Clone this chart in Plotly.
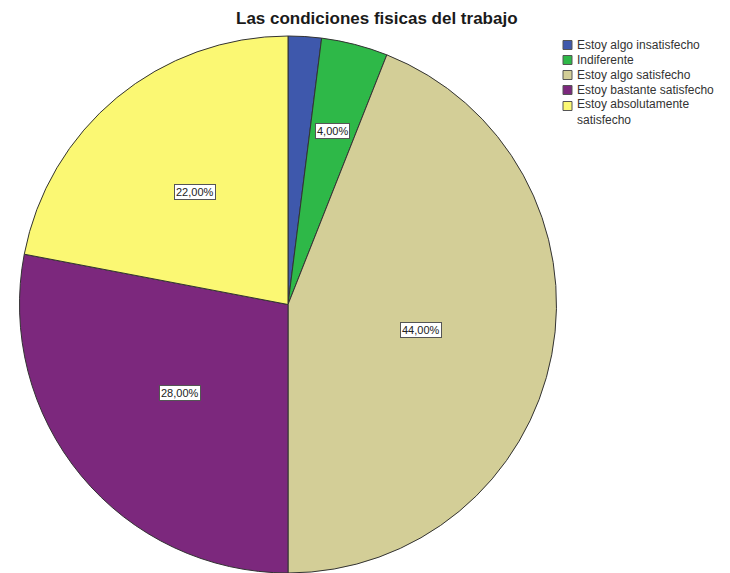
import math
import plotly.graph_objects as go

# Survey answers and their shares (percent)
categories = [
    "Estoy algo insatisfecho",
    "Indiferente",
    "Estoy algo satisfecho",
    "Estoy bastante satisfecho",
    "Estoy absolutamente satisfecho",
]
legend_text = [
    "Estoy algo insatisfecho",
    "Indiferente",
    "Estoy algo satisfecho",
    "Estoy bastante satisfecho",
    "Estoy absolutamente<br>satisfecho",
]
percentages = [2.0, 4.0, 44.0, 28.0, 22.0]
colors = ["#3E58AC", "#2EB848", "#D3CE97", "#7C287D", "#FBF873"]

# radial position of each value label (None = label not drawn)
label_radius = [None, 0.667, 0.505, 0.52, 0.546]

W, H = 730, 573
CX, CY, R = 288.0, 304.5, 268.5  # pie centre and radius in pixels

fig = go.Figure()
fig.add_trace(go.Pie(
    labels=categories,
    values=percentages,
    marker=dict(colors=colors, line=dict(color="#333333", width=1)),
    sort=False,
    direction="clockwise",
    rotation=0,
    textinfo="none",
    hoverinfo="label+percent",
    showlegend=False,
    domain=dict(x=[(CX - R) / W, (CX + R) / W], y=[0, 1 - (CY - R) / H]),
))

annotations = []
shapes = []

# boxed percentage labels placed along each slice's mid-angle
total = sum(percentages)
cum = 0.0
for val, frac in zip(percentages, label_radius):
    mid = (cum + val / 2) / total * 2 * math.pi
    cum += val
    if frac is None:
        continue
    px = CX + frac * R * math.sin(mid)
    py = CY - frac * R * math.cos(mid)
    annotations.append(dict(
        x=px / W, y=1 - py / H, xref="paper", yref="paper",
        text=f"{val:.2f}%".replace(".", ","),
        showarrow=False,
        font=dict(family="Liberation Sans, Arial, sans-serif", size=11, color="#222222"),
        bgcolor="white", bordercolor="#555555", borderwidth=1, borderpad=1,
        xanchor="center", yanchor="middle",
    ))

# legend: coloured squares with category names
swatch_y = [45, 60, 75, 90, 106]
text_y = [45, 60, 75, 90, 112]
for name, col, ys, yt in zip(legend_text, colors, swatch_y, text_y):
    shapes.append(dict(
        type="rect", xref="paper", yref="paper",
        x0=563 / W, x1=572 / W, y0=1 - (ys - 4.5) / H, y1=1 - (ys + 4.5) / H,
        fillcolor=col, line=dict(color="#555555", width=1),
    ))
    annotations.append(dict(
        x=575 / W, y=1 - yt / H, xref="paper", yref="paper",
        text=name, showarrow=False, align="left",
        font=dict(family="Liberation Sans, Arial, sans-serif", size=12, color="#333333"),
        xanchor="left", yanchor="middle",
    ))

# chart title
annotations.append(dict(
    x=377 / W, y=1 - 18 / H, xref="paper", yref="paper",
    text="<b>Las condiciones fisicas del trabajo</b>", showarrow=False,
    font=dict(family="Liberation Sans, Arial, sans-serif", size=17, color="#1a1a1a"),
    xanchor="center", yanchor="middle",
))

fig.update_layout(
    width=W, height=H,
    margin=dict(l=0, r=0, t=0, b=0),
    paper_bgcolor="white",
    plot_bgcolor="white",
    annotations=annotations,
    shapes=shapes,
)

fig.write_html("out.html")
